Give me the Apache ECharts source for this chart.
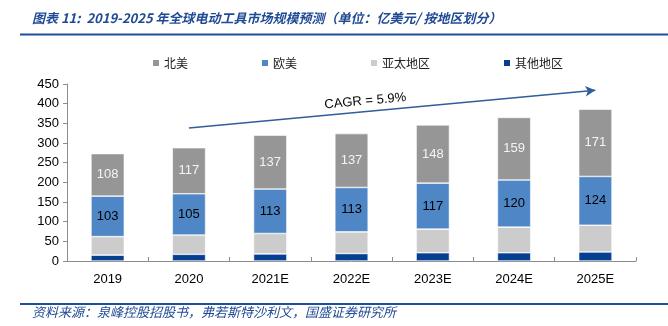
<!DOCTYPE html>
<html>
<head>
<meta charset="utf-8">
<script src="https://cdn.jsdelivr.net/npm/echarts@6/dist/echarts.min.js"></script>
<style>
html,body{margin:0;padding:0;background:#fff;}
#main{width:668px;height:326px;}
</style>
</head>
<body>
<div id="main"></div>
<script>
var categories = ['2019', '2020', '2021E', '2022E', '2023E', '2024E', '2025E'];
var northAmerica = [108, 117, 137, 137, 148, 159, 171];
var europe = [103, 105, 113, 113, 117, 120, 124];
var asiaPacific = [47, 49, 52, 55, 60, 65, 68];
var otherRegions = [15, 17, 18, 19, 21, 21, 23];
var yTicks = { min: 0, max: 450, interval: 50 };
var cagrText = 'CAGR = 5.9%';
var cagrStart = ['2020', 338];
var cagrEnd = ['2025E', 434];

var titleText = '图表 11:  2019-2025 年全球电动工具市场规模预测（单位：亿美元/ 按地区划分）';
var sourceText = '资料来源：泉峰控股招股书，弗若斯特沙利文，国盛证券研究所';

var numFont = 'Liberation Sans, Arial, sans-serif';
var cjkFont = 'Noto Sans CJK SC, sans-serif';

var chart = echarts.init(document.getElementById('main'), null, { renderer: 'canvas' });

function barSeries(name, data, color, label) {
  return {
    name: name,
    type: 'bar',
    stack: 'total',
    barWidth: '41%',
    data: data,
    itemStyle: { color: color, borderColor: '#ffffff', borderWidth: 0.6 },
    label: label || { show: false },
    emphasis: { disabled: true }
  };
}

var option = {
  animation: false,
  backgroundColor: '#ffffff',
  grid: { left: 67, right: 32, top: 84, bottom: 65, containLabel: false },
  legend: {
    data: ['北美', '欧美', '亚太地区', '其他地区'],
    left: 146,
    top: 52,
    itemWidth: 8,
    itemHeight: 8,
    itemGap: 72,
    icon: 'rect',
    textStyle: { fontFamily: cjkFont, fontSize: 12, color: '#222', padding: [0, 0, 0, -1] }
  },
  xAxis: {
    type: 'category',
    data: categories,
    axisLine: { show: true, lineStyle: { color: '#8c8c8c', width: 1 } },
    axisTick: { show: true, inside: true, length: 4, alignWithLabel: false, lineStyle: { color: '#8c8c8c' } },
    axisLabel: { color: '#000', fontFamily: numFont, fontSize: 13, margin: 12 },
    splitLine: { show: false }
  },
  yAxis: {
    type: 'value',
    min: yTicks.min,
    max: yTicks.max,
    interval: yTicks.interval,
    axisLine: { show: true, lineStyle: { color: '#8c8c8c', width: 1 } },
    axisTick: { show: true, inside: false, length: 4, lineStyle: { color: '#8c8c8c' } },
    axisLabel: { color: '#000', fontFamily: numFont, fontSize: 13, margin: 8 },
    splitLine: { show: false }
  },
  series: [
    barSeries('其他地区', otherRegions, '#053f92'),
    barSeries('亚太地区', asiaPacific, '#cccccc'),
    barSeries('欧美', europe, '#4f86c6', {
      show: true, position: 'inside', color: '#000', fontFamily: numFont, fontSize: 13
    }),
    (function () {
      var s = barSeries('北美', northAmerica, '#969696', {
        show: true, position: 'inside', color: '#f4f4f4', fontFamily: numFont, fontSize: 13
      });
      s.markLine = {
        silent: true,
        symbol: ['none', 'arrow'],
        symbolSize: [8, 10],
        animation: false,
        lineStyle: { color: '#2f5e9c', width: 1.6, type: 'solid' },
        label: {
          show: true,
          formatter: cagrText,
          position: 'insideMiddleTop',
          color: '#000',
          fontFamily: numFont,
          fontSize: 13,
          distance: 4,
          padding: [0, 52, 0, 0]
        },
        data: [[{ coord: cagrStart }, { coord: cagrEnd }]]
      };
      return s;
    })()
  ],
  graphic: [
    {
      type: 'text', left: 32, top: 12, silent: true,
      style: {
        text: titleText, fill: '#1f4a94', fontFamily: cjkFont,
        fontSize: 13, fontWeight: 'bold', fontStyle: 'italic'
      }
    },
    {
      type: 'rect', silent: true,
      shape: { x: 20, y: 33.5, width: 648, height: 2 },
      style: { fill: '#1f4f9c' }
    },
    {
      type: 'rect', silent: true,
      shape: { x: 20, y: 303, width: 648, height: 2 },
      style: { fill: '#1f4f9c' }
    },
    {
      type: 'text', left: 32, top: 306, silent: true,
      style: {
        text: sourceText, fill: '#1f4a94', fontFamily: cjkFont,
        fontSize: 13, fontStyle: 'italic'
      }
    }
  ]
};

chart.setOption(option);
</script>
</body>
</html>
